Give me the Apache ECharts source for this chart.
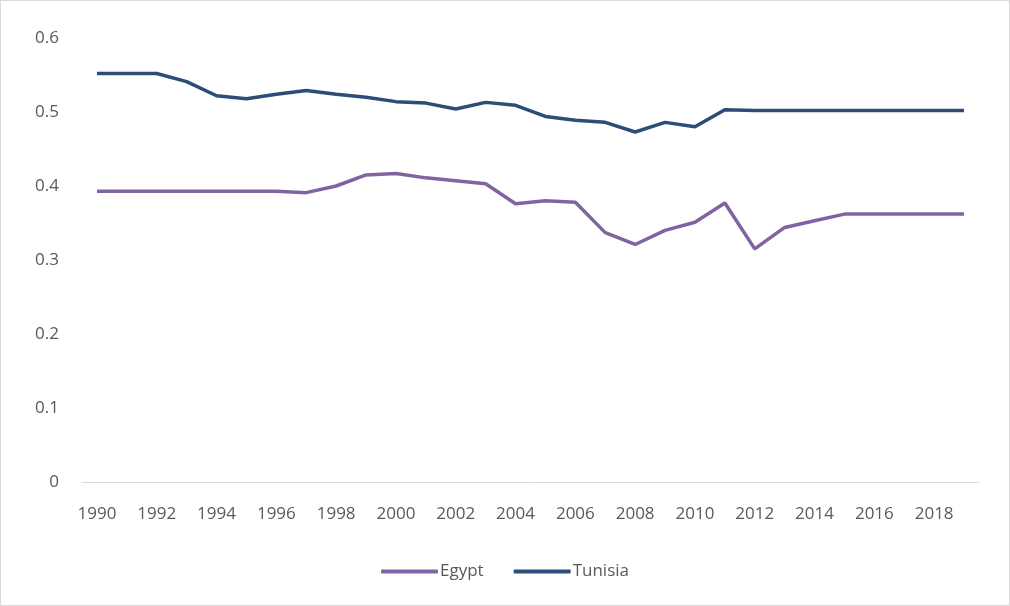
<!DOCTYPE html>
<html><head><meta charset="utf-8">
<script src="https://cdn.jsdelivr.net/npm/echarts@6/dist/echarts.min.js"></script>
<style>html,body{margin:0;padding:0;background:#fff}#c{width:1010px;height:606px;box-sizing:border-box;border:1px solid #d9d9d9}</style>
</head><body><div id="c"></div>
<script>
const years = [];
for (let y = 1990; y <= 2019; y++) years.push(String(y));
const egypt = [0.393,0.393,0.393,0.393,0.393,0.393,0.393,0.391,0.400,0.415,0.417,0.411,0.407,0.403,0.376,0.380,0.378,0.337,0.321,0.340,0.351,0.377,0.315,0.344,0.353,0.362,0.362,0.362,0.362,0.362];
const tunisia = [0.552,0.552,0.552,0.541,0.522,0.518,0.524,0.529,0.524,0.520,0.514,0.512,0.504,0.513,0.509,0.494,0.489,0.486,0.473,0.486,0.480,0.503,0.502,0.502,0.502,0.502,0.502,0.502,0.502,0.502];
const yTicks = [0,0.1,0.2,0.3,0.4,0.5,0.6];
const chart = echarts.init(document.getElementById('c'));
const font = "'Open Sans', sans-serif";
chart.setOption({
  animation:false,
  grid:{left:81,right:30,top:37,bottom:123},
  legend:{bottom:20,left:'center',itemWidth:57,itemHeight:4,itemGap:30,icon:'roundRect',
    textStyle:{fontFamily:font,fontSize:17,color:'#595959',padding:[0,0,0,-3]},data:['Egypt','Tunisia']},
  xAxis:{type:'category',data:years,boundaryGap:true,
    axisLine:{lineStyle:{color:'#d9d9d9'}},axisTick:{show:false},
    axisLabel:{interval:1,fontFamily:font,fontSize:17,color:'#595959',margin:24}},
  yAxis:{type:'value',min:yTicks[0],max:yTicks[yTicks.length-1],interval:0.1,
    splitLine:{show:false},axisLine:{show:false},axisTick:{show:false},
    axisLabel:{fontFamily:font,fontSize:17,color:'#595959',margin:23,formatter:v=>String(Math.round(v*10)/10)}},
  series:[
    {name:'Egypt',type:'line',data:egypt,symbol:'none',lineStyle:{width:3.5,color:'#8064A2'},itemStyle:{color:'#8064A2'}},
    {name:'Tunisia',type:'line',data:tunisia,symbol:'none',lineStyle:{width:3.5,color:'#2C4D75'},itemStyle:{color:'#2C4D75'}}
  ]
});
</script></body></html>
